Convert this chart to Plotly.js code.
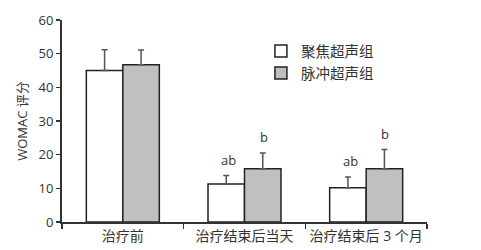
<!DOCTYPE html>
<html><head><meta charset="utf-8">
<script src="https://cdn.plot.ly/plotly-3.0.1.min.js"></script>
<style>html,body{margin:0;padding:0;background:#fff}</style>
</head><body>
<div id="chart" style="width:481px;height:250px"></div>
<script>
const categories = ['治疗前', '治疗结束后当天', '治疗结束后 3 个月'];
const focusedName = '聚焦超声组';
const pulseName = '脉冲超声组';
const focusedValues = [45.0, 11.3, 10.2];
const focusedErrors = [6.2, 2.5, 3.2];
const pulseValues = [46.7, 15.8, 15.8];
const pulseErrors = [4.4, 4.7, 5.7];
const focusedLabels = ['', 'ab', 'ab'];
const pulseLabels = ['', 'b', 'b'];
const yTicks = [0, 10, 20, 30, 40, 50, 60];

const font = 'Open Sans, Noto Sans CJK SC, sans-serif';
const txt = '#333';

function errCfg(arr) {
  return {type: 'data', symmetric: false, array: arr, arrayminus: arr.map(() => 0),
          color: '#555', thickness: 1.5, width: 3};
}

const traces = [
  {type: 'bar', name: focusedName, x: categories, y: focusedValues,
   marker: {color: '#ffffff', line: {color: '#222', width: 1.5}},
   error_y: errCfg(focusedErrors)},
  {type: 'bar', name: pulseName, x: categories, y: pulseValues,
   marker: {color: '#c0c0c0', line: {color: '#222', width: 1.5}},
   error_y: errCfg(pulseErrors)}
];

const annotations = [];
categories.forEach((c, i) => {
  if (focusedLabels[i]) annotations.push({x: c, y: focusedValues[i] + focusedErrors[i], xref: 'x', yref: 'y',
    text: focusedLabels[i], showarrow: false, xshift: -16, yshift: 5, yanchor: 'bottom',
    font: {family: font, size: 13, color: txt}});
  if (pulseLabels[i]) annotations.push({x: c, y: pulseValues[i] + pulseErrors[i], xref: 'x', yref: 'y',
    text: pulseLabels[i], showarrow: false, xshift: 19, yshift: 5, yanchor: 'bottom',
    font: {family: font, size: 13, color: txt}});
});

const layout = {
  width: 481, height: 250,
  margin: {l: 62, r: 54, t: 20, b: 28, pad: 0},
  paper_bgcolor: '#fff', plot_bgcolor: '#fff',
  barmode: 'group', bargap: 0.4, bargroupgap: 0,
  showlegend: true,
  legend: {x: 0.545, y: 0.925, xanchor: 'left', yanchor: 'top', bgcolor: 'rgba(0,0,0,0)',
           font: {family: font, size: 14.5, color: txt}, tracegroupgap: 0, traceorder: 'normal'},
  xaxis: {type: 'category', showline: true, linecolor: '#333', linewidth: 2,
          ticks: 'outside', tickson: 'boundaries', ticklen: 5, tickcolor: '#333', tickwidth: 1.5,
          showgrid: false, zeroline: false, tickangle: 0, automargin: false,
          tickfont: {family: font, size: 14, color: txt}},
  yaxis: {range: [0, 60], tickvals: yTicks, showline: true, linecolor: '#333', linewidth: 2,
          ticks: 'outside', ticklen: 4, tickcolor: '#333', tickwidth: 1.5,
          showgrid: false, zeroline: false, automargin: false,
          tickfont: {family: font, size: 13, color: txt},
          title: {text: 'WOMAC 评分', font: {family: font, size: 13, color: txt}, standoff: 8}},
  annotations: annotations
};

Plotly.newPlot('chart', traces, layout, {staticPlot: true, displayModeBar: false});
</script>
</body></html>
